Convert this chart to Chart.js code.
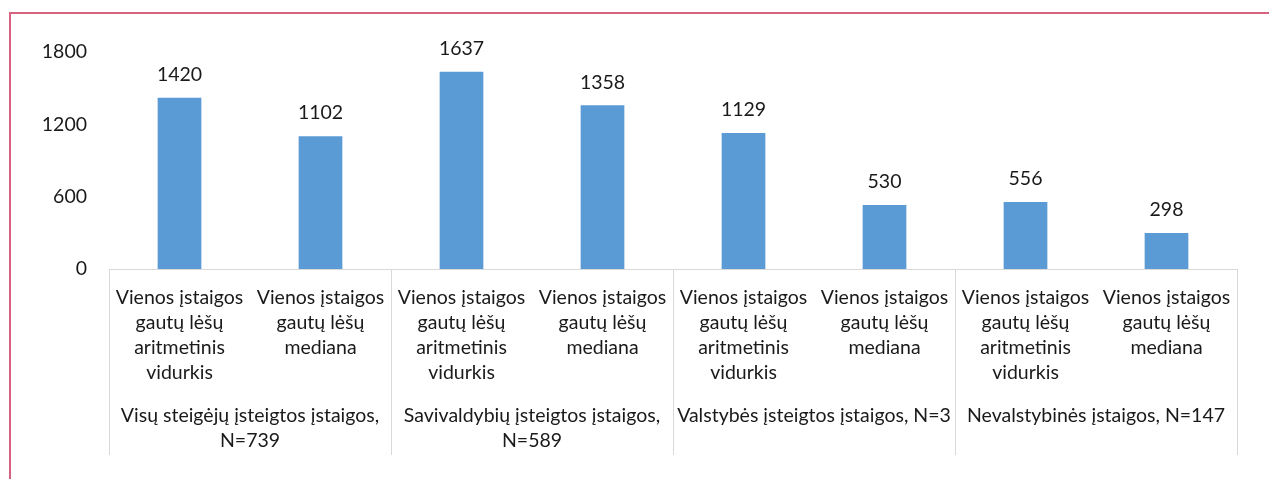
<!DOCTYPE html>
<html>
<head>
<meta charset="utf-8">
<script src="https://cdn.jsdelivr.net/npm/chart.js@4"></script>
<style>
  body { margin: 0; background: #fff; }
  #wrap { position: relative; width: 1269px; height: 479px; }
  #frame { position: absolute; left: 9px; top: 12px; width: 1260px; height: 467px;
           border-top: 2px solid #d6637f; border-left: 2px solid #d6637f; box-sizing: border-box; }
  #myChart { position: absolute; left: 0; top: 0; }
</style>
</head>
<body>
<div id="wrap">
  <div id="frame"></div>
  <canvas id="myChart" width="1269" height="479"></canvas>
</div>
<script>
// categories (each one split into lines like in the picture)
const meanLabel = ["Vienos įstaigos", "gautų lėšų", "aritmetinis", "vidurkis"];
const medianLabel = ["Vienos įstaigos", "gautų lėšų", "mediana"];
const categories = [meanLabel, medianLabel, meanLabel, medianLabel,
                    meanLabel, medianLabel, meanLabel, medianLabel];

// group labels under the categories
const groups = [
    ["Visų steigėjų įsteigtos įstaigos,", "N=739"],
    ["Savivaldybių įsteigtos įstaigos,", "N=589"],
    ["Valstybės įsteigtos įstaigos, N=3"],
    ["Nevalstybinės įstaigos, N=147"]
];

// values of the bars
const values = [1420, 1102, 1637, 1358, 1129, 530, 556, 298];

// y axis ticks
const yMin = 0;
const yMax = 1800;
const yStep = 600;

const fontFamily = "Lato, 'Liberation Sans', sans-serif";
const fontSize = 19.5;
const textColor = "#1a1a1a";
const lineColor = "#d9d9d9";

// numbers on top of the bars
const valueLabels = {
    id: "valueLabels",
    afterDatasetsDraw(chart) {
        const ctx = chart.ctx;
        const meta = chart.getDatasetMeta(0);
        ctx.save();
        ctx.font = fontSize + "px " + fontFamily;
        ctx.fillStyle = textColor;
        ctx.textAlign = "center";
        ctx.textBaseline = "middle";
        meta.data.forEach((bar, i) => {
            ctx.fillText(values[i], bar.x, bar.y - 23);
        });
        ctx.restore();
    }
};

// vertical lines between the groups, going through both label rows
const groupLines = {
    id: "groupLines",
    afterDraw(chart) {
        const ctx = chart.ctx;
        const x = chart.scales.x;
        const x2 = chart.scales.x2;
        ctx.save();
        ctx.strokeStyle = lineColor;
        ctx.lineWidth = 1;
        for (let g = 0; g <= groups.length; g++) {
            const px = Math.round(x.getPixelForValue(g * 2 - 0.5)) + 0.5;
            ctx.beginPath();
            ctx.moveTo(px, chart.chartArea.bottom);
            ctx.lineTo(px, x2.bottom);
            ctx.stroke();
        }
        ctx.restore();
    }
};

const myChart = document.getElementById("myChart");

let barChart = new Chart(myChart, {
    type: "bar",
    data: {
        labels: categories,
        datasets: [{
            data: values,
            backgroundColor: "#5b9bd5",
            borderWidth: 0,
            barPercentage: 0.31,
            categoryPercentage: 1
        }]
    },
    options: {
        responsive: false,
        animation: false,
        layout: {
            padding: { top: 52, right: 32, bottom: 24, left: 0 }
        },
        plugins: {
            legend: { display: false },
            tooltip: { enabled: false }
        },
        scales: {
            x: {
                offset: true,
                grid: { display: false, drawTicks: false },
                border: { display: true, color: lineColor, width: 1 },
                ticks: {
                    color: textColor,
                    font: { family: fontFamily, size: fontSize, lineHeight: "25px" },
                    padding: 16,
                    maxRotation: 0,
                    autoSkip: false
                },
                afterFit(scale) { scale.height = 126; }
            },
            x2: {
                type: "category",
                position: "bottom",
                labels: groups,
                offset: true,
                grid: { display: false, drawTicks: false },
                border: { display: false },
                ticks: {
                    color: textColor,
                    font: { family: fontFamily, size: fontSize, lineHeight: "25px" },
                    padding: 8,
                    maxRotation: 0,
                    autoSkip: false
                },
                afterFit(scale) { scale.height = 60; }
            },
            y: {
                min: yMin,
                max: yMax,
                grid: { display: false, drawTicks: false },
                border: { display: false },
                ticks: {
                    stepSize: yStep,
                    color: textColor,
                    font: { family: fontFamily, size: fontSize },
                    padding: 22,
                    callback: value => String(value)
                },
                afterFit(scale) { scale.width = 109; }
            }
        }
    },
    plugins: [valueLabels, groupLines]
});
</script>
</body>
</html>
